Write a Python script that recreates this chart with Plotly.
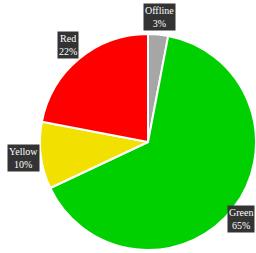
import math
import plotly.graph_objects as go

labels = ["Offline", "Green", "Yellow", "Red"]
values = [3, 65, 10, 22]
colors = ["#a6a6a6", "#00d000", "#f2e000", "#ff0000"]

W, H = 256, 253
cx, cy, R = 148, 142, 108

fig = go.Figure(go.Pie(
    labels=labels, values=values, sort=False, direction="clockwise",
    rotation=0, textinfo="none", hoverinfo="label+percent",
    marker=dict(colors=colors, line=dict(color="white", width=2)),
    domain=dict(x=[(cx - R) / W, min(1.0, (cx + R) / W)],
                y=[(H - cy - R) / H, (H - cy + R) / H]),
    showlegend=False,
))

total = sum(values)
annotations = []
acc = 0
for lab, v in zip(labels, values):
    mid = (acc + v / 2) / total * 2 * math.pi
    acc += v
    d = R * 1.16
    px = cx + d * math.sin(mid)
    py = cy - d * math.cos(mid)
    xanchor = "center"
    if px + 16 > W:
        px, xanchor = W - 1, "right"
    annotations.append(dict(
        x=px / W, y=(H - py) / H, xref="paper", yref="paper",
        text=f"{lab}<br>{round(v / total * 100)}%", showarrow=False,
        font=dict(family="Liberation Serif", size=10, color="white"),
        bgcolor="#333333", borderpad=1, xanchor=xanchor, yanchor="middle",
    ))

fig.update_layout(
    width=W, height=H, margin=dict(l=0, r=0, t=0, b=0),
    paper_bgcolor="white", plot_bgcolor="white",
    annotations=annotations,
)
fig.write_html("out.html", config={"displayModeBar": False},
               post_script="document.body.style.margin='0';document.body.style.overflow='hidden';")
